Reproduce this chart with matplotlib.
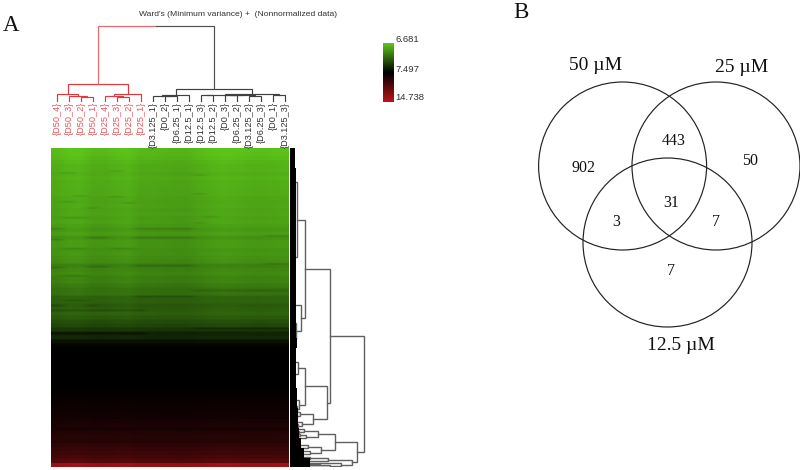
#!/usr/bin/env python

import numpy as np
import matplotlib
matplotlib.use("Agg")
import matplotlib.pyplot as plt
from matplotlib.colors import LinearSegmentedColormap
from matplotlib.patches import Circle

W, H = 800, 470

sample_labels = ['{D50_4}', '{D50_3}', '{D50_2}', '{D50_1}', '{D25_4}', '{D25_3}', '{D25_2}', '{D25_1}',
                 '{D3.125_1}', '{D0_2}', '{D6.25_1}', '{D12.5_1}', '{D12.5_3}', '{D12.5_2}', '{D0_3}',
                 '{D6.25_2}', '{D3.125_2}', '{D6.25_3}', '{D0_1}', '{D3.125_3}']
n_red = 8

# level per 4 pixel rows, + is green, - is red
row_levels = [.98, .97, .95, .92, .90, .90, .88, .90, .88, .88, .87, .87, .85, .84, .85, .83,
              .84, .82, .83, .80, .77, .80, .74, .78, .78, .75, .76, .74, .72, .65, .68, .70,
              .66, .66, .62, .58, .58, .50, .50, .46, .48, .50, .46, .40, .36, .28, .18, .20,
              .09, .03, 0, 0, 0, 0, 0, 0, 0, 0, 0, 0,
              -.02, -.03, -.04, -.05, -.07, -.08, -.09, -.10, -.13, -.15, -.14, -.19, -.21, -.20,
              -.26, -.30, -.33, -.38, -.46, -.85]
col_shift = [-.02, .02, .03, -.03, -.03, .0, .02, -.04, -.04, -.05, -.06, -.06, -.02, .01,
             .03, .02, .0, -.01, .0, .01]
# darker bands in the heatmap: row, first col, last col
stripes = [(24, 1, 2), (47, 2, 3), (53, 1, 2), (22, 5, 6), (54, 6, 7), (48, 5, 6), (59, 3, 4), (69, 1, 3),
           (26, 12, 13), (45, 12, 13), (74, 12, 13), (68, 13, 14), (80, 0, 1), (91, 0, 1), (89, 3, 5),
           (80, 7, 12), (89, 7, 12), (87, 18, 20), (119, 0, 1), (118, 3, 5), (117, 7, 12), (115, 18, 20),
           (100, 1, 3), (100, 5, 7), (127, 1, 3), (142, 12, 20), (148, 7, 12), (157, 0, 1), (157, 3, 4),
           (152, 1, 3), (162, 0, 4), (162, 4, 8), (185, 0, 8), (180, 12, 20)]

# nested merges: (distance, child, child), a leaf is a column or a row
sample_tree = (76,
               (18, (8, 0, (6, 1, (5, 2, 3))), (8, (6, 4, (5, 5, 6)), 7)),
               (13.5,
                (7, (6.5, 8, (6, 9, 10)), 11),
                (8, (7.5, (7, 12, 13), (7.5, (7, 14, 15), (6.5, 16, 17))), (7, 18, 19))))
gene_tree = (74,
             (40,
              (15, (7, 34, 109), (11, 157, (6, 175, 191))),
              (37,
               (15, (8, 214, 226), (9, 252, (7, 258, 264))),
               (23, (10, 264, (7, 266, 270)), (12, 274, (8, 276, 279))))),
             (67,
              (45,
               (28, (14, (7, 280, 282), (9, 283, 285)), (16, (10, 286, 288), (8, 289, 291))),
               (31, (18, (9, 296, 298), (7, 299, 301)), (20, (11, 302, 304), (9, 305, 307)))),
              (62,
               (38, (20, (10, 308, 310), (8, 310.5, 312)), (14, 312.5, 314)),
               (51, (30, 314.5, 316), (40, 317, 318.5)))))
# width of the solid leaf band, per 10 pixel rows
band_widths = [5, 5, 6, 6, 6, 6, 6, 6, 6, 6, 6, 6, 6, 6, 6, 6, 6, 6, 6, 7,
               6, 6, 6, 6, 7, 7, 8, 8, 9, 11, 14, 20]

scale_labels = ['6.681', '7.497', '14.738']

venn_labels = ['50 \u00b5M', '25 \u00b5M', '12.5 \u00b5M']
venn_counts = ['902', '443', '50', '31', '3', '7', '7']


def px_axes(fig, x0, y0, x1, y1):
    ax = fig.add_axes([x0 / W, 1 - y1 / H, (x1 - x0) / W, (y1 - y0) / H])
    ax.axis('off')
    return ax


def draw_top(ax, node, color):
    if not isinstance(node, tuple):
        return node + 0.5, 0
    h = node[0]
    xa, ha = draw_top(ax, node[1], color)
    xb, hb = draw_top(ax, node[2], color)
    ax.plot([xa, xa, xb, xb], [ha, h, h, hb], color=color, lw=0.85, solid_joinstyle='miter')
    return (xa + xb) / 2, h


def draw_side(ax, node):
    if not isinstance(node, tuple):
        return 0, node
    d = node[0]
    da, ya = draw_side(ax, node[1])
    db, yb = draw_side(ax, node[2])
    ax.plot([da, d, d, db], [ya, ya, yb, yb], color='#606060', lw=1.0, solid_joinstyle='miter')
    return d, (ya + yb) / 2


fig = plt.figure(figsize=(W / 100, H / 100), dpi=100, facecolor='white')

cmap = LinearSegmentedColormap.from_list('gbr', [(0, '#b81418'), (0.5, '#000000'), (1, '#5cc41a')])

# heatmap
matrix = np.repeat(np.array(row_levels)[:, None], 4, axis=0) * (1 + np.array(col_shift))
for row, c0, c1 in stripes:
    matrix[row:row + 2, c0:c1] -= 0.07
ax_heat = px_axes(fig, 51, 148, 289, 467)
ax_heat.imshow(matrix, cmap=cmap, vmin=-1, vmax=1, aspect='auto', interpolation='bilinear',
               extent=(0, len(col_shift), matrix.shape[0], 0))

# sample dendrogram
ax_top = px_axes(fig, 51, 20, 291, 102)
ax_top.set_xlim(0, len(sample_labels))
ax_top.set_ylim(0, 82)
xr, hr = draw_top(ax_top, sample_tree[1], '#e0383c')
xb, hb = draw_top(ax_top, sample_tree[2], '#404040')
root = sample_tree[0]
xm = (xr + xb) / 2
ax_top.plot([xr, xr, xm], [hr, root, root], color='#e8686c', lw=0.85, solid_joinstyle='miter')
ax_top.plot([xm, xb, xb], [root, root, hb], color='#505050', lw=0.85, solid_joinstyle='miter')
for i, lab in enumerate(sample_labels):
    col = '#e2555a' if i < n_red else '#303030'
    ax_top.text(i + 0.5, 0, lab, rotation=90, ha='center', va='top', fontsize=6.6, color=col,
                family='Liberation Sans', clip_on=False)

fig.text(238.5 / W, 1 - 15 / H, "Ward's (Minimum variance) +  (Nonnormalized data)", fontsize=6.1,
         color='#303030', ha='center', va='center', family='Liberation Sans')

# gene dendrogram with the solid leaf band on top
ax_side = px_axes(fig, 290, 148, 370, 467)
ax_side.set_xlim(0, 80)
ax_side.set_ylim(319, 0)
draw_side(ax_side, gene_tree)
band_edges = np.arange(len(band_widths) + 1) * 10
ax_side.stairs(band_widths, band_edges, baseline=0, orientation='horizontal', fill=True, color='black',
               zorder=5)

# colour scale
ax_scale = px_axes(fig, 383, 43, 394, 102)
ax_scale.imshow(np.linspace(1, -1, 60)[:, None], cmap=cmap, vmin=-1, vmax=1, aspect='auto')
for lab, y in zip(scale_labels, [39, 69, 98]):
    fig.text(395 / W, 1 - y / H, lab, fontsize=6.8, color='#303030', va='center', family='Liberation Sans')

fig.text(3 / W, 1 - 31 / H, 'A', fontsize=16.5, family='Liberation Serif', color='#111111')
fig.text(513 / W, 1 - 18 / H, 'B', fontsize=16.5, family='Liberation Serif', color='#111111')

# venn
ax_venn = px_axes(fig, 0, 0, W, H)
ax_venn.set_xlim(0, W)
ax_venn.set_ylim(H, 0)
ax_venn.patch.set_alpha(0)
for cx, cy, r in [(622.6, 166, 84), (716, 166, 84), (667.5, 242.5, 84.5)]:
    ax_venn.add_patch(Circle((cx, cy), r, fill=False, ec='#222222', lw=0.85))
for lab, (x, y) in zip(venn_labels, [(596, 66), (742, 67), (681, 346)]):
    ax_venn.text(x, y, lab, fontsize=14, family='Liberation Serif', ha='center', va='center', color='#111111')
for lab, (x, y) in zip(venn_counts, [(584, 168), (674, 141), (750, 161), (671, 203), (616, 222),
                                     (716, 222), (671, 271)]):
    ax_venn.text(x, y, lab, fontsize=11.5, family='Liberation Serif', ha='center', va='center', color='#111111')

fig.savefig('out.png', dpi=100, facecolor='white')
